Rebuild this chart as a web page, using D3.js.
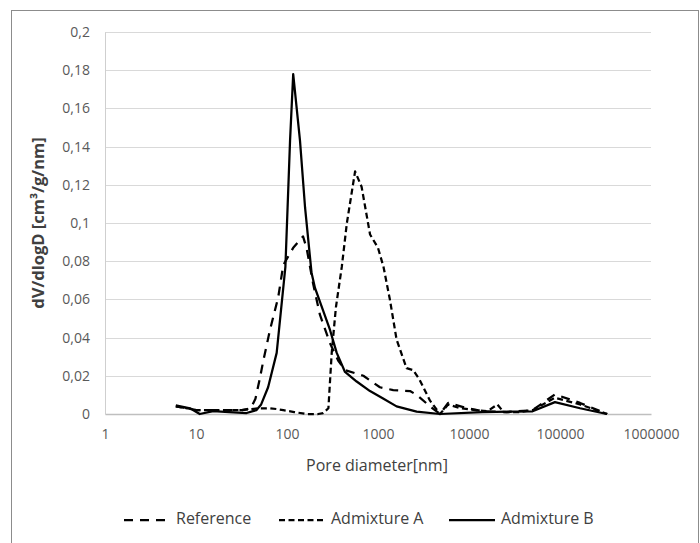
<!DOCTYPE html>
<html>
<head>
<meta charset="utf-8">
<style>
  body { margin: 0; background: #fff; }
  svg { display: block; font-family: 'Open Sans', sans-serif; }
  .grid line { stroke: #d9d9d9; stroke-width: 1; }
</style>
</head>
<body>
<svg width="700" height="543"></svg>
<script src="https://d3js.org/d3.v7.min.js"></script>
<script>
// pore diameter [nm] and dV/dlogD values
let refD = [6, 8, 10, 13, 17, 23, 32, 40, 45, 50, 55, 65, 80, 91, 117, 150, 164, 194, 230, 297, 365, 434, 690, 1050, 1470, 2250, 2660, 3730, 4800, 5900, 9300, 14300, 26000, 50000, 88000, 166000, 330000]
let refV = [0.004, 0.003, 0.002, 0.002, 0.002, 0.002, 0.002, 0.003, 0.008, 0.018, 0.028, 0.044, 0.061, 0.078, 0.087, 0.093, 0.087, 0.068, 0.052, 0.037, 0.028, 0.023, 0.020, 0.014, 0.0125, 0.012, 0.010, 0.004, 0.0, 0.0058, 0.0032, 0.0014, 0.001, 0.002, 0.0103, 0.0058, 0.0]

let admAD = [6, 8, 10, 13, 17, 23, 32, 39, 50, 65, 80, 91, 120, 164, 220, 250, 285, 310, 345, 400, 455, 560, 660, 818, 1000, 1150, 1350, 1600, 2060, 2430, 2860, 3730, 4800, 5900, 8000, 12000, 16000, 20500, 24000, 35000, 50000, 88000, 166000, 330000]
let admAV = [0.004, 0.003, 0.002, 0.002, 0.002, 0.002, 0.002, 0.0025, 0.003, 0.003, 0.0025, 0.002, 0.001, 0.0, 0.0, 0.0005, 0.003, 0.032, 0.056, 0.077, 0.1, 0.127, 0.119, 0.094, 0.087, 0.077, 0.06, 0.039, 0.024, 0.023, 0.018, 0.007, 0.0, 0.005, 0.003, 0.002, 0.0015, 0.005, 0.001, 0.001, 0.002, 0.0085, 0.005, 0.0]

let admBD = [6, 8.6, 11, 15.5, 23, 36, 46, 52, 62, 77, 96, 108, 117, 139, 158, 186, 203, 297, 352, 434, 583, 817, 1150, 1600, 2660, 4800, 14000, 50000, 88000, 166000, 326000]
let admBV = [0.0045, 0.003, 0.0, 0.0015, 0.001, 0.0005, 0.002, 0.005, 0.014, 0.032, 0.077, 0.143, 0.178, 0.143, 0.108, 0.074, 0.066, 0.044, 0.032, 0.022, 0.017, 0.012, 0.008, 0.004, 0.0012, 0.0, 0.001, 0.0014, 0.0062, 0.003, 0.0]

let xTicks = [1, 10, 100, 1000, 10000, 100000, 1000000]
let yTicks = [0, 0.02, 0.04, 0.06, 0.08, 0.1, 0.12, 0.14, 0.16, 0.18, 0.2]
let yTickLabels = ["0", "0,02", "0,04", "0,06", "0,08", "0,1", "0,12", "0,14", "0,16", "0,18", "0,2"]

let seriesNames = ["Reference", "Admixture A", "Admixture B"]
let seriesDash = ["9,7", "6,3.5", null]

let svg = d3.select("svg")
let margin = { top: 32, right: 49, bottom: 129, left: 105 }
let width = 700, height = 543

// outer chart frame
svg.append("rect")
    .attr("x", 11.5).attr("y", 10.5)
    .attr("width", 687).attr("height", 540)
    .attr("fill", "white")
    .attr("stroke", "#8c8c8c")

let x = d3.scaleLog()
    .domain([1, 1000000])
    .range([margin.left, width - margin.right])

let y = d3.scaleLinear()
    .domain([0, 0.2])
    .range([height - margin.bottom, margin.top])

// horizontal gridlines
svg.append("g")
    .attr("class", "grid")
    .selectAll("line")
    .data(yTicks.slice(1))
    .join("line")
    .attr("x1", x.range()[0])
    .attr("x2", x.range()[1])
    .attr("y1", d => Math.round(y(d)) + 0.5)
    .attr("y2", d => Math.round(y(d)) + 0.5)

let yAxis = d3.axisLeft(y)
    .tickValues(yTicks)
    .tickSize(0)
    .tickPadding(15)
    .tickFormat((d, i) => yTickLabels[i])

svg.append("g")
    .attr("transform", `translate(${margin.left},0)`)
    .call(yAxis)
    .call(g => g.select(".domain").attr("stroke", "#cfcfcf"))
    .selectAll("text")
    .attr("fill", "#595959")
    .style("font-size", "14px")
    .style("font-family", "'Open Sans', sans-serif")

let xAxis = d3.axisBottom(x)
    .tickValues(xTicks)
    .tickSize(0)
    .tickPadding(15)
    .tickFormat(d3.format("d"))

svg.append("g")
    .attr("transform", `translate(0,${y(0)})`)
    .call(xAxis)
    .call(g => g.select(".domain").attr("stroke", "#bfbfbf").attr("stroke-width", 1.5))
    .selectAll("text")
    .attr("fill", "#595959")
    .style("font-size", "14px")
    .style("font-family", "'Open Sans', sans-serif")

// lines
let line = d3.line()
    .x(d => x(d[0]))
    .y(d => y(d[1]))

let seriesData = [
    d3.zip(refD, refV),
    d3.zip(admAD, admAV),
    d3.zip(admBD, admBV)
]

svg.append("g")
    .selectAll("path")
    .data(seriesData)
    .join("path")
    .attr("d", line)
    .attr("fill", "none")
    .attr("stroke", "black")
    .attr("stroke-width", 2.25)
    .attr("stroke-linejoin", "round")
    .attr("stroke-dasharray", (d, i) => seriesDash[i])

// axis titles
svg.append("text")
    .attr("x", 377)
    .attr("y", 467)
    .attr("text-anchor", "middle")
    .attr("dominant-baseline", "middle")
    .attr("fill", "#404040")
    .style("font-size", "16px")
    .text("Pore diameter[nm]")

svg.append("text")
    .attr("transform", `translate(40,${(margin.top + y(0)) / 2}) rotate(-90)`)
    .attr("text-anchor", "middle")
    .attr("dominant-baseline", "middle")
    .attr("fill", "#404040")
    .attr("font-weight", "bold")
    .style("font-size", "16.5px")
    .text("dV/dlogD [cm³/g/nm]")

// legend
let legendX = [124, 279, 449]
let legend = svg.append("g")
    .selectAll("g")
    .data(seriesNames)
    .join("g")
    .attr("transform", (d, i) => `translate(${legendX[i]},520)`)

legend.append("line")
    .attr("x1", 0).attr("x2", 46)
    .attr("stroke", "black")
    .attr("stroke-width", 2.25)
    .attr("stroke-dasharray", (d, i) => seriesDash[i])

legend.append("text")
    .attr("x", 52)
    .attr("dominant-baseline", "middle")
    .attr("fill", "#404040")
    .style("font-size", "16px")
    .text(d => d)
</script>
</body>
</html>
